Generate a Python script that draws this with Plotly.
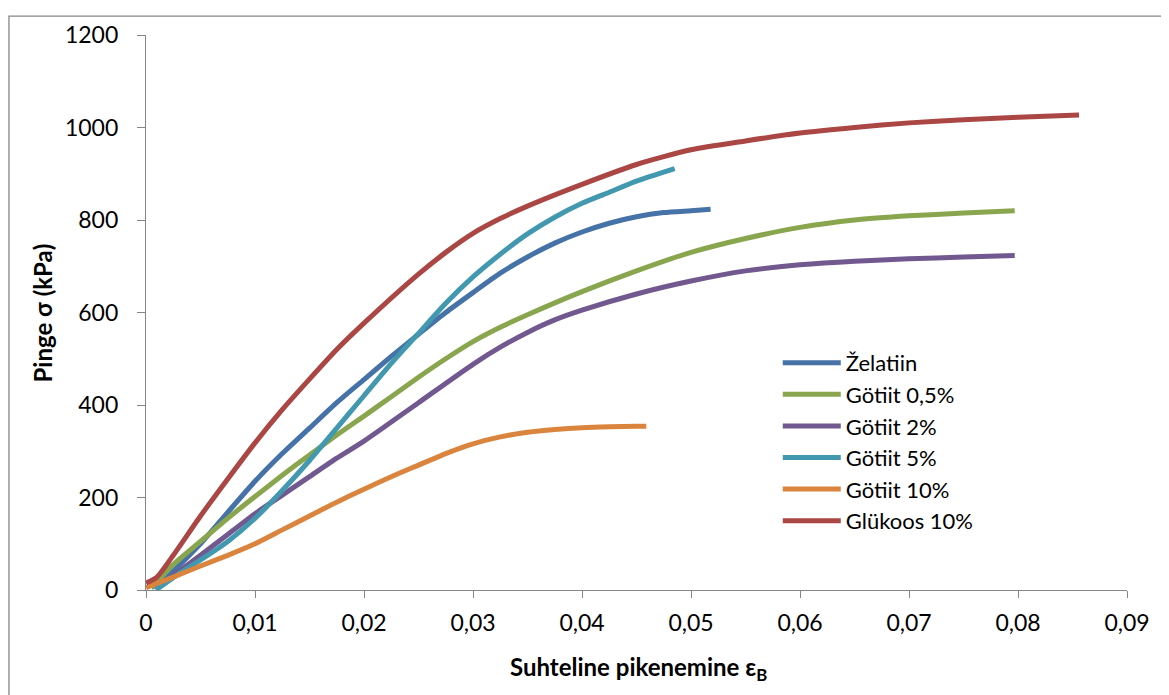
import plotly.graph_objects as go

# ---- data ----
zel_x = [0.0005, 0.002, 0.005, 0.0075, 0.01, 0.0125, 0.015, 0.0175, 0.02, 0.0225, 0.025, 0.0275, 0.03, 0.0325, 0.035, 0.0375, 0.04, 0.0425, 0.045, 0.0475, 0.05, 0.0518]
zel_y = [5, 30, 100, 168, 235, 295, 350, 405, 455, 505, 553, 600, 643, 685, 720, 750, 774, 793, 807, 816, 820, 823]

g05_x = [0.0005, 0.0025, 0.005, 0.0075, 0.01, 0.0125, 0.015, 0.0175, 0.02, 0.0225, 0.025, 0.0275, 0.03, 0.0325, 0.035, 0.04, 0.045, 0.05, 0.055, 0.06, 0.065, 0.07, 0.075, 0.0797]
g05_y = [5, 55, 105, 155, 202, 248, 292, 335, 376, 418, 460, 500, 537, 568, 595, 645, 690, 730, 760, 784, 800, 809, 815, 820]

g2_x = [0.001, 0.003, 0.005, 0.0075, 0.01, 0.0125, 0.015, 0.0175, 0.02, 0.025, 0.03, 0.0325, 0.035, 0.0375, 0.04, 0.045, 0.05, 0.055, 0.06, 0.065, 0.07, 0.075, 0.0797]
g2_y = [3, 40, 75, 120, 165, 205, 245, 285, 322, 405, 488, 525, 557, 584, 605, 640, 668, 690, 703, 711, 716, 720, 723]

g5_x = [0.0009, 0.003, 0.005, 0.0075, 0.01, 0.0125, 0.015, 0.0175, 0.02, 0.0225, 0.025, 0.0275, 0.03, 0.0325, 0.035, 0.0375, 0.04, 0.0425, 0.045, 0.0485]
g5_y = [0, 35, 65, 105, 155, 215, 280, 350, 420, 490, 555, 620, 677, 726, 770, 806, 836, 860, 884, 911]

g10_x = [0.0, 0.0025, 0.005, 0.0075, 0.01, 0.0125, 0.015, 0.0175, 0.02, 0.0225, 0.025, 0.0275, 0.03, 0.0325, 0.035, 0.0375, 0.04, 0.0425, 0.045, 0.0459]
g10_y = [5, 28, 52, 75, 100, 130, 160, 190, 218, 245, 270, 295, 316, 331, 341, 347, 351, 353, 354, 354]

glu_x = [0.0, 0.001, 0.0025, 0.005, 0.0075, 0.01, 0.0125, 0.015, 0.0175, 0.02, 0.025, 0.0275, 0.03, 0.0325, 0.035, 0.04, 0.045, 0.05, 0.055, 0.06, 0.065, 0.07, 0.075, 0.08, 0.0856]
glu_y = [15, 28, 75, 160, 240, 318, 390, 456, 520, 577, 683, 730, 771, 803, 830, 877, 920, 952, 971, 988, 1000, 1010, 1017, 1022, 1027]

series_names = ["Želatiin", "Götiit 0,5%", "Götiit 2%", "Götiit 5%", "Götiit 10%", "Glükoos 10%"]
series_x = [zel_x, g05_x, g2_x, g5_x, g10_x, glu_x]
series_y = [zel_y, g05_y, g2_y, g5_y, g10_y, glu_y]
colors = ["#4572A7", "#89A54E", "#71588F", "#4198AF", "#DB843D", "#AA4643"]

x_ticks = [0, 0.01, 0.02, 0.03, 0.04, 0.05, 0.06, 0.07, 0.08, 0.09]
x_tick_text = ["0", "0,01", "0,02", "0,03", "0,04", "0,05", "0,06", "0,07", "0,08", "0,09"]
y_ticks = [0, 200, 400, 600, 800, 1000, 1200]

FONT = "Lato"

fig = go.Figure()
for name, xs, ys, c in zip(series_names, series_x, series_y, colors):
    fig.add_trace(go.Scatter(x=xs, y=ys, name=name, mode="lines",
                             line=dict(color=c, width=5, shape="spline", smoothing=0.6)))

axis_col = "#868686"
fig.update_layout(
    width=1169, height=695,
    margin=dict(l=138, r=50, t=22, b=113),
    paper_bgcolor="white", plot_bgcolor="white",
    font=dict(family=FONT, size=23, color="black"),
    showlegend=True,
    legend=dict(x=0.644, y=0.447, xanchor="left", yanchor="top",
                bgcolor="rgba(0,0,0,0)", font=dict(family=FONT, size=22, color="black"),
                itemwidth=58, tracegroupgap=0),
    xaxis=dict(range=[0, 0.09], tickvals=x_ticks, ticktext=x_tick_text,
               showgrid=False, zeroline=False, showline=True, linecolor=axis_col, linewidth=1.3,
               ticks="outside", ticklen=7, tickcolor=axis_col, tickwidth=1.3,
               ticklabelstandoff=5, tickfont=dict(family=FONT, size=23, color="black")),
    yaxis=dict(range=[0, 1200], tickvals=y_ticks,
               showgrid=False, zeroline=False, showline=True, linecolor=axis_col, linewidth=1.3,
               ticks="outside", ticklen=8, tickcolor=axis_col, tickwidth=1.3,
               ticklabelstandoff=14, tickfont=dict(family=FONT, size=23, color="black")),
    annotations=[
        dict(text="<b>Suhteline pikenemine ε<sub>B</sub></b>", xref="paper", yref="paper",
             x=0.502, y=-0.142, xanchor="center", yanchor="middle", showarrow=False,
             font=dict(family=FONT, size=24, color="black")),
        dict(text="<b>Pinge σ (kPa)</b>", xref="paper", yref="paper",
             x=-0.105, y=0.5, xanchor="center", yanchor="middle", showarrow=False, textangle=-90,
             font=dict(family=FONT, size=24, color="black")),
    ],
    shapes=[dict(type="rect", xref="paper", yref="paper", x0=-0.1397, y0=-0.3, x1=1.2, y1=1.0339,
                 line=dict(color=axis_col, width=1.3), fillcolor="rgba(0,0,0,0)", layer="below")],
)

fig.write_html("out.html")
